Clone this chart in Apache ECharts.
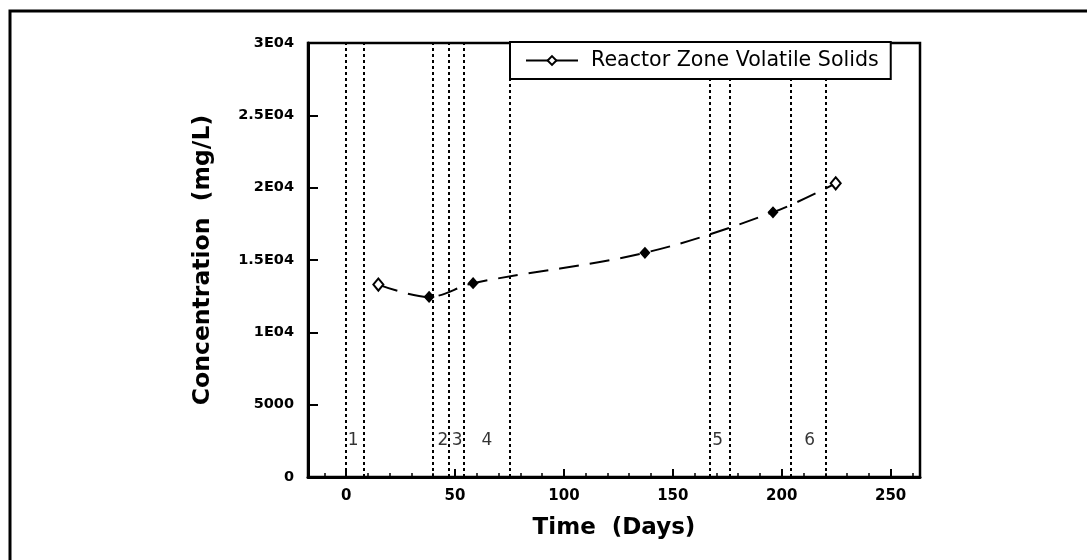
<!DOCTYPE html>
<html>
<head>
<meta charset="utf-8">
<script src="https://cdn.jsdelivr.net/npm/echarts@6/dist/echarts.min.js"></script>
<style>html,body{margin:0;padding:0;background:#fff}#c{width:1087px;height:560px}</style>
</head>
<body>
<div id="c"></div>
<script>
// ---- data ----
const days = [14.8, 38.1, 58.3, 137.2, 196.0, 224.8];
const vsConc = [13300, 12450, 13400, 15500, 18300, 20300];
const phaseBounds = [0, 8, 40, 47, 54, 75, 167, 176, 204, 220];
const phaseNames = ['1', '2', '3', '4', '5', '6'];
const phaseLabelDays = [3.2, 44.5, 51, 64.7, 170.6, 212.8];
const phaseLabelConc = 2550;
const xTickValues = [0, 50, 100, 150, 200, 250];
const xMinorTickValues = [-10, 0, 10, 20, 30, 40, 50, 60, 70, 80, 90, 100, 110, 120, 130, 140, 150, 160, 170, 180, 190, 200, 210, 220, 230, 240, 250, 260];
const yTickValues = [0, 5000, 10000, 15000, 20000, 25000, 30000];
const yTickLabels = ['0', '5000', '1E04', '1.5E04', '2E04', '2.5E04', '3E04'];
const seriesName = 'Reactor Zone Volatile Solids';

const FONT = 'DejaVu Sans';
const chart = echarts.init(document.getElementById('c'), null, {renderer: 'canvas'});
const last = days.length - 1;

chart.setOption({
  animation: false,
  backgroundColor: '#fff',
  grid: {left: 308, right: 167, top: 43, bottom: 83, show: true, borderColor: '#000', borderWidth: 2.5, backgroundColor: 'transparent'},
  graphic: [{
    type: 'polyline', silent: true,
    shape: {points: [[10, 560], [10, 11], [1087, 11]]},
    style: {stroke: '#000', lineWidth: 3, fill: null}
  }],
  legend: {
    data: [seriesName],
    left: 510, top: 42, z: 100,
    backgroundColor: '#fff',
    borderColor: '#000', borderWidth: 2,
    padding: [8, 12, 8, 15],
    itemWidth: 52, itemHeight: 11,
    lineStyle: {type: 'solid', width: 2, color: '#000'},
    textStyle: {fontFamily: FONT, fontSize: 20.6, color: '#000', padding: [0, 0, 0, 8]}
  },
  xAxis: [{
    type: 'value', min: -17.5, max: 263.5,
    name: 'Time  (Days)', nameLocation: 'middle', nameGap: 40,
    nameTextStyle: {fontFamily: FONT, fontSize: 23, fontWeight: 'bold', color: '#000'},
    axisLine: {show: true, onZero: false, lineStyle: {color: '#000', width: 3}},
    axisTick: {show: true, inside: true, length: 8, customValues: xTickValues, lineStyle: {color: '#000', width: 2}},
    axisLabel: {customValues: xTickValues, margin: 12, fontFamily: FONT, fontSize: 15, fontWeight: 'bold', color: '#000'},
    splitLine: {show: false}
  }, {
    type: 'value', min: -17.5, max: 263.5, position: 'bottom', offset: 0,
    axisLine: {show: false, onZero: false},
    axisTick: {show: true, inside: true, length: 4, customValues: xMinorTickValues, lineStyle: {color: '#000', width: 1.5}},
    axisLabel: {show: false},
    splitLine: {show: false}
  }],
  yAxis: {
    type: 'value', min: 0, max: 30000, interval: 5000,
    name: 'Concentration  (mg/L)', nameLocation: 'middle', nameGap: 93,
    nameTextStyle: {fontFamily: FONT, fontSize: 23.5, fontWeight: 'bold', color: '#000'},
    axisLine: {show: true, onZero: false, lineStyle: {color: '#000', width: 3}},
    axisTick: {show: true, inside: true, length: 10, lineStyle: {color: '#000', width: 2}},
    axisLabel: {
      margin: 14, fontFamily: FONT, fontSize: 14.5, fontWeight: 'bold', color: '#000',
      formatter: v => { const i = yTickValues.indexOf(v); return i >= 0 ? yTickLabels[i] : ''; }
    },
    splitLine: {show: false}
  },
  series: [{
    type: 'scatter',
    name: 'phases',
    xAxisIndex: 0,
    symbolSize: 0,
    silent: true,
    data: phaseLabelDays.map((d, i) => ({value: [d, phaseLabelConc], name: phaseNames[i]})),
    label: {show: true, position: 'inside', formatter: '{b}', fontFamily: FONT, fontSize: 17, color: '#000'},
    markLine: {
      silent: true, symbol: ['none', 'none'],
      label: {show: false},
      lineStyle: {color: '#000', type: [3, 3], width: 2},
      data: phaseBounds.map(d => ({xAxis: d}))
    }
  }, {
    type: 'line',
    name: seriesName,
    xAxisIndex: 0,
    smooth: 0.35,
    symbol: 'emptyDiamond',
    symbolSize: [10, 12],
    lineStyle: {color: '#000', width: 2, type: [20, 11]},
    itemStyle: {color: '#000', borderColor: '#000', borderWidth: 1.5},
    data: days.map((d, i) => (i === 0 || i === last)
      ? {value: [d, vsConc[i]]}
      : {value: [d, vsConc[i]], symbol: 'diamond', symbolSize: [9, 10]})
  }]
});
</script>
</body>
</html>
